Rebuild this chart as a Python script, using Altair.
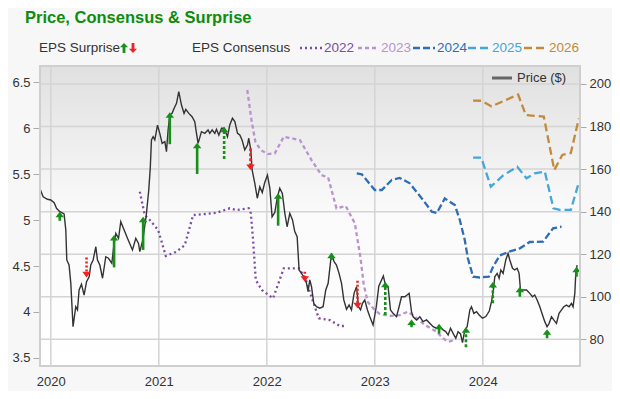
import altair as alt
import pandas as pd

# ---------------- data (decimal year, value) ----------------
price_t = [2019.898, 2019.929, 2019.969, 2020.000, 2020.031, 2020.053, 2020.083, 2020.102, 2020.123, 2020.139,
           2020.148, 2020.169, 2020.185, 2020.206, 2020.231, 2020.247, 2020.262, 2020.284, 2020.308, 2020.331,
           2020.355, 2020.370, 2020.392, 2020.417, 2020.432, 2020.454, 2020.479, 2020.509, 2020.534, 2020.565,
           2020.586, 2020.602, 2020.627, 2020.648, 2020.679, 2020.710, 2020.756, 2020.787, 2020.812, 2020.824,
           2020.852, 2020.884, 2020.907, 2020.921, 2020.932, 2020.947, 2020.963, 2020.988, 2021.009, 2021.031,
           2021.056, 2021.071, 2021.086, 2021.102, 2021.123, 2021.142, 2021.164, 2021.185, 2021.210, 2021.234,
           2021.250, 2021.278, 2021.308, 2021.333, 2021.349, 2021.364, 2021.395, 2021.426, 2021.456, 2021.472,
           2021.494, 2021.519, 2021.534, 2021.556, 2021.581, 2021.605, 2021.636, 2021.657, 2021.682, 2021.704,
           2021.729, 2021.750, 2021.771, 2021.796, 2021.821, 2021.833, 2021.852, 2021.864, 2021.889, 2021.912,
           2021.935, 2021.958, 2021.981, 2022.006, 2022.028, 2022.049, 2022.074, 2022.097, 2022.120, 2022.144,
           2022.167, 2022.188, 2022.213, 2022.238, 2022.259, 2022.281, 2022.299, 2022.321, 2022.352, 2022.368,
           2022.382, 2022.398, 2022.414, 2022.435, 2022.460, 2022.491, 2022.521, 2022.546, 2022.568, 2022.599,
           2022.623, 2022.645, 2022.669, 2022.692, 2022.713, 2022.738, 2022.762, 2022.784, 2022.808, 2022.831,
           2022.849, 2022.868, 2022.886, 2022.907, 2022.932, 2022.954, 2022.984, 2023.014, 2023.037, 2023.079,
           2023.102, 2023.123, 2023.145, 2023.169, 2023.201, 2023.225, 2023.247, 2023.278, 2023.299, 2023.318,
           2023.340, 2023.355, 2023.386, 2023.417, 2023.447, 2023.479, 2023.509, 2023.540, 2023.571, 2023.602,
           2023.632, 2023.657, 2023.679, 2023.701, 2023.725, 2023.750, 2023.771, 2023.794, 2023.812, 2023.833,
           2023.855, 2023.880, 2023.895, 2023.917, 2023.942, 2023.966, 2023.997, 2024.028, 2024.060, 2024.081,
           2024.096, 2024.111, 2024.133, 2024.151, 2024.167, 2024.188, 2024.213, 2024.234, 2024.250, 2024.275,
           2024.296, 2024.318, 2024.336, 2024.349, 2024.373, 2024.405, 2024.435, 2024.460, 2024.481, 2024.503,
           2024.528, 2024.553, 2024.574, 2024.595, 2024.614, 2024.636, 2024.657, 2024.682, 2024.706, 2024.729,
           2024.750, 2024.775, 2024.799, 2024.821, 2024.836, 2024.852, 2024.861, 2024.873]
price_v = [151.0, 147.0, 145.8, 145.5, 144.2, 141.6, 140.0, 139.5, 138.9, 131.4,
           117.3, 114.9, 106.5, 85.9, 95.3, 93.8, 103.2, 105.9, 100.8, 107.1,
           109.4, 114.9, 117.3, 123.5, 117.3, 114.9, 108.7, 118.8, 118.1, 115.7,
           125.1, 129.8, 127.5, 135.3, 131.4, 127.5, 122.0, 127.5, 125.1, 121.2,
           126.7, 138.4, 150.2, 160.5, 173.7, 175.2, 173.7, 180.7, 176.8, 172.1,
           172.9, 168.2, 178.4, 185.4, 186.2, 188.6, 190.9, 196.4, 190.1, 186.2,
           188.1, 186.2, 184.6, 182.3, 176.8, 172.1, 177.6, 176.8, 178.4, 176.8,
           178.4, 176.8, 178.7, 176.0, 179.2, 179.2, 175.2, 180.7, 183.9, 182.3,
           176.8, 176.0, 173.7, 169.0, 171.3, 174.5, 169.0, 159.6, 153.3, 146.3,
           151.7, 149.0, 153.7, 157.2, 151.1, 137.6, 139.6, 146.6, 151.0, 148.6,
           139.2, 132.9, 139.2, 136.1, 130.6, 128.2, 112.6, 111.0, 108.7, 106.3,
           102.4, 107.9, 104.7, 96.9, 95.3, 94.6, 95.3, 103.2, 106.3, 120.4,
           116.5, 114.9, 111.0, 106.3, 98.5, 94.1, 96.1, 93.8, 101.6, 104.7,
           95.3, 93.8, 96.9, 98.5, 93.8, 90.6, 86.7, 95.3, 105.0, 109.8,
           104.7, 104.7, 93.8, 92.2, 90.6, 95.3, 100.0, 100.0, 100.8, 101.6,
           93.0, 90.6, 89.1, 90.6, 88.3, 89.1, 87.5, 85.9, 85.2, 85.9,
           84.4, 83.6, 82.0, 85.2, 82.8, 80.5, 83.6, 82.5, 78.4, 84.4,
           85.9, 93.8, 95.3, 92.2, 93.0, 91.4, 89.9, 90.7, 93.3, 97.8,
           102.2, 109.4, 111.0, 108.7, 112.6, 111.0, 117.3, 120.4, 117.3, 113.4,
           112.6, 113.4, 111.0, 103.2, 103.2, 103.2, 101.6, 100.0, 100.8, 98.5,
           95.3, 91.4, 88.3, 85.9, 87.5, 90.6, 89.1, 87.5, 92.2, 93.8,
           95.3, 96.1, 95.3, 96.9, 95.3, 101.6, 111.0, 114.9]

cons_years = ["2022", "2023", "2024", "2025", "2026"]
cons_colors = ["#7b4ea3", "#b793cf", "#2f6db6", "#45a6d9", "#c18b3b"]
cons_dashes = [[2, 3], [4, 3], [7, 3], [8, 4], [8, 4]]

cons_2022_t = [2020.824, 2020.870, 2020.917, 2020.994, 2021.065, 2021.164, 2021.241, 2021.318, 2021.410, 2021.534,
               2021.657, 2021.719, 2021.833, 2021.852, 2021.873, 2021.898, 2021.954, 2022.058, 2022.157, 2022.296,
               2022.356, 2022.417, 2022.481, 2022.583, 2022.676, 2022.722]
cons_2022_v = [5.308, 5.054, 5.000, 4.891, 4.609, 4.655, 4.728, 5.054, 5.062, 5.079,
               5.127, 5.109, 5.127, 5.073, 4.783, 4.348, 4.239, 4.149, 4.475, 4.475,
               4.370, 4.152, 3.932, 3.913, 3.848, 3.848]
cons_2023_t = [2021.819, 2021.858, 2021.894, 2021.944, 2022.009, 2022.074, 2022.157, 2022.306, 2022.414, 2022.506,
               2022.568, 2022.645, 2022.731, 2022.815, 2022.866, 2022.898, 2022.935, 2022.991, 2023.046, 2023.139,
               2023.231, 2023.306, 2023.361, 2023.463, 2023.571, 2023.632, 2023.679, 2023.741]
cons_2023_v = [6.413, 6.087, 5.851, 5.761, 5.717, 5.725, 5.905, 5.870, 5.652, 5.489,
               5.462, 5.127, 5.152, 4.964, 4.601, 4.293, 4.109, 4.033, 3.978, 3.957,
               3.967, 4.003, 3.957, 3.859, 3.786, 3.714, 3.677, 3.696]
cons_2024_t = [2022.833, 2022.880, 2023.000, 2023.065, 2023.157, 2023.231, 2023.324, 2023.447, 2023.528, 2023.574,
               2023.648, 2023.741, 2023.787, 2023.833, 2023.861, 2023.910, 2023.972, 2024.056, 2024.095, 2024.157,
               2024.241, 2024.343, 2024.435, 2024.558, 2024.651, 2024.729]
cons_2024_v = [5.508, 5.497, 5.326, 5.326, 5.435, 5.457, 5.399, 5.217, 5.090, 5.076,
               5.234, 5.163, 5.000, 4.783, 4.587, 4.384, 4.375, 4.384, 4.492, 4.614,
               4.655, 4.692, 4.761, 4.764, 4.910, 4.927]
cons_2025_t = [2023.910, 2023.986, 2024.074, 2024.188, 2024.319, 2024.405, 2024.481, 2024.574, 2024.654, 2024.713,
               2024.815, 2024.882]
cons_2025_v = [5.677, 5.679, 5.362, 5.484, 5.579, 5.453, 5.508, 5.527, 5.127, 5.109,
               5.109, 5.380]
cons_2026_t = [2023.910, 2023.988, 2024.081, 2024.327, 2024.398, 2024.565, 2024.662, 2024.736, 2024.815, 2024.889]
cons_2026_v = [6.297, 6.296, 6.234, 6.364, 6.141, 6.123, 5.543, 5.707, 5.728, 6.103]

# EPS surprise arrows, drawn on the price scale: tip of arrow and start of shaft
surp_t = [2020.083, 2020.331, 2020.586, 2020.855, 2021.102, 2021.355, 2021.605, 2021.849, 2022.105, 2022.352,
          2022.599, 2022.840, 2023.097, 2023.340, 2023.595, 2023.844, 2024.093, 2024.343, 2024.595, 2024.868]
surp_tip = [140.0, 109.1, 129.0, 137.6, 186.7, 172.4, 179.9, 159.6, 148.6, 107.1,
            120.7, 94.6, 107.1, 89.3, 87.3, 85.7, 106.9, 104.7, 84.7, 114.1]
surp_tail = [135.7, 118.5, 113.8, 122.0, 171.7, 157.7, 164.7, 169.8, 133.4, 111.8,
             117.3, 107.5, 91.4, 85.7, 82.6, 76.3, 96.9, 100.0, 80.5, 109.4]
surp_dir = ["up", "down", "up", "up", "up", "up", "up", "down", "up", "down",
            "up", "down", "up", "up", "up", "up", "up", "up", "up", "up"]
surp_style = ["solid", "dotted", "solid", "solid", "solid", "solid", "dashed", "dashed", "solid", "dotted",
              "solid", "dotted", "dashed", "solid", "solid", "dashed", "dashed", "solid", "solid", "solid"]

x_ticks = [2020, 2021, 2022, 2023, 2024]
eps_ticks = [3.5, 4, 4.5, 5, 5.5, 6, 6.5]
price_ticks = [80, 100, 120, 140, 160, 180, 200]

TITLE = "Price, Consensus & Surprise"

# ---------------- layout / style ----------------
W, H = 540, 300
X_DOM = [2019.9, 2024.9]
EPS_DOM = [3.413, 6.674]
PX_DOM = [67.45, 208.46]
FONT = "Liberation Sans"
TXT = "#333333"
GRID = "#d4d4d4"
GREEN = "#17901a"
RED = "#ee2222"
UP_HEAD = "M0,0L-1,1.3L1,1.3Z"
DOWN_HEAD = "M0,0L-1,-1.3L1,-1.3Z"
UP_ICON = "M0,-1L0.8,-0.15L0.28,-0.15L0.28,1L-0.28,1L-0.28,-0.15L-0.8,-0.15Z"
DOWN_ICON = "M0,1L0.8,0.15L0.28,0.15L0.28,-1L-0.28,-1L-0.28,0.15L-0.8,0.15Z"
SHAFT_DASH = {"solid": [], "dashed": [3, 2], "dotted": [2, 2]}

price_df = pd.DataFrame({"t": price_t, "price": price_v})
cons_df = pd.concat([
    pd.DataFrame({"t": ts, "eps": vs, "year": yr})
    for yr, ts, vs in [("2022", cons_2022_t, cons_2022_v), ("2023", cons_2023_t, cons_2023_v),
                       ("2024", cons_2024_t, cons_2024_v), ("2025", cons_2025_t, cons_2025_v),
                       ("2026", cons_2026_t, cons_2026_v)]
], ignore_index=True)
surp_df = pd.DataFrame({"t": surp_t, "tip": surp_tip, "tail": surp_tail, "dir": surp_dir, "style": surp_style})
one = pd.DataFrame({"k": [0]})

x_enc = alt.X("t:Q", scale=alt.Scale(domain=X_DOM, nice=False, zero=False),
              axis=alt.Axis(values=x_ticks, format="d", title=None, grid=False, ticks=False, domain=False,
                            labelPadding=9, labelFontSize=13, labelColor=TXT, labelFont=FONT))
px_scale = alt.Scale(domain=PX_DOM, nice=False, zero=False)
eps_scale = alt.Scale(domain=EPS_DOM, nice=False, zero=False)

bg = alt.Chart(one).mark_rect(
    fill=alt.Gradient(gradient="linear", x1=0, x2=0, y1=0, y2=1,
                      stops=[alt.GradientStop(color="#e0e0e0", offset=0),
                             alt.GradientStop(color="#fafafa", offset=0.48),
                             alt.GradientStop(color="#ffffff", offset=1)])
).encode(x=alt.value(0), x2=alt.value(W), y=alt.value(0), y2=alt.value(H))

vgrid = alt.Chart(pd.DataFrame({"t": x_ticks})).mark_rule(color=GRID, strokeWidth=1.5).encode(x=x_enc)
hgrid = alt.Chart(pd.DataFrame({"price": price_ticks})).mark_rule(color=GRID, strokeWidth=1.5).encode(
    y=alt.Y("price:Q", scale=px_scale, axis=None))

cons = alt.Chart(cons_df).mark_line(strokeWidth=2.3).encode(
    x=x_enc,
    y=alt.Y("eps:Q", scale=eps_scale,
            axis=alt.Axis(orient="left", values=eps_ticks, format="~g", title=None, grid=False, domain=False,
                          tickSize=7, tickColor="#aaaaaa", labelPadding=3, labelFontSize=13,
                          labelColor=TXT, labelFont=FONT)),
    color=alt.Color("year:N", scale=alt.Scale(domain=cons_years, range=cons_colors), legend=None),
    strokeDash=alt.StrokeDash("year:N", scale=alt.Scale(domain=cons_years, range=cons_dashes), legend=None),
)

price = alt.Chart(price_df).mark_line(color="#333333", strokeWidth=1.4).encode(
    x=x_enc,
    y=alt.Y("price:Q", scale=px_scale,
            axis=alt.Axis(orient="right", values=price_ticks, title=None, grid=False, domain=False,
                          tickSize=6, tickColor="#aaaaaa", labelPadding=3, labelFontSize=13,
                          labelColor=TXT, labelFont=FONT)),
)

# arrow shafts: one layer per direction and line style
shafts = []
for d, col, off in [("up", GREEN, 4), ("down", RED, -4)]:
    for st, dash in SHAFT_DASH.items():
        kw = {"strokeDash": dash} if dash else {}
        shafts.append(
            alt.Chart(surp_df)
            .transform_filter(f"datum.dir == '{d}' && datum.style == '{st}'")
            .mark_rule(color=col, strokeWidth=2.6, y2Offset=off, **kw)
            .encode(x=x_enc, y=alt.Y("tail:Q", scale=px_scale, axis=None), y2="tip:Q")
        )
up_head = alt.Chart(surp_df).transform_filter("datum.dir == 'up'").mark_point(
    shape=UP_HEAD, size=72, filled=True, opacity=1, color=GREEN, strokeWidth=0).encode(
    x=x_enc, y=alt.Y("tip:Q", scale=px_scale, axis=None))
down_head = alt.Chart(surp_df).transform_filter("datum.dir == 'down'").mark_point(
    shape=DOWN_HEAD, size=72, filled=True, opacity=1, color=RED, strokeWidth=0).encode(
    x=x_enc, y=alt.Y("tip:Q", scale=px_scale, axis=None))

frame = alt.Chart(one).mark_rect(filled=False, stroke="#cfcfcf", strokeWidth=2).encode(
    x=alt.value(0), x2=alt.value(W), y=alt.value(0), y2=alt.value(H))


def ltext(txt, x, y, color=TXT, size=13.5, weight="normal", baseline="middle"):
    return alt.Chart(one).mark_text(text=txt, align="left", baseline=baseline, font=FONT, fontWeight=weight,
                                    fontSize=size, color=color).encode(x=alt.value(x), y=alt.value(y))


def lline(x1, x2, y, color, dash, width=2.5):
    return alt.Chart(one).mark_rule(color=color, strokeDash=dash, strokeWidth=width).encode(
        x=alt.value(x1), x2=alt.value(x2), y=alt.value(y))


LY = -18
legend = [
    ltext(TITLE, -15, -43, color="#0e8c0e", size=16.5, weight="bold", baseline="alphabetic"),
    ltext("EPS Surprise", -1, LY),
    alt.Chart(one).mark_point(shape=UP_ICON, size=100, filled=True, opacity=1, color=GREEN, strokeWidth=0)
    .encode(x=alt.value(84), y=alt.value(LY)),
    alt.Chart(one).mark_point(shape=DOWN_ICON, size=100, filled=True, opacity=1, color=RED, strokeWidth=0)
    .encode(x=alt.value(93), y=alt.value(LY)),
    ltext("EPS Consensus", 152, LY),
]
sample_x = [(260, 282, 284), (318, 337, 341), (373, 395, 397), (428, 450, 452), (484, 507, 509)]
for (a, b, tx), yr, col, dsh in zip(sample_x, cons_years, cons_colors, cons_dashes):
    legend.append(lline(a, b, LY, col, dsh))
    legend.append(ltext(yr, tx, LY, color=col))
legend.append(lline(452, 472, 12, "#666666", [1, 0], width=3))
legend.append(ltext("Price ($)", 477, 12, size=13))

chart = alt.layer(
    bg, vgrid, hgrid, cons, price, *shafts, up_head, down_head, frame, *legend
).resolve_scale(
    y="independent"
).properties(
    width=W, height=H,
    autosize=alt.AutoSizeParams(type="none"),
    padding={"left": 32, "top": 58, "right": 32, "bottom": 25},
    background="#f7f7f7",
).configure_view(stroke=None)

chart.save("out.html", embed_options={"renderer": "svg", "actions": False})
